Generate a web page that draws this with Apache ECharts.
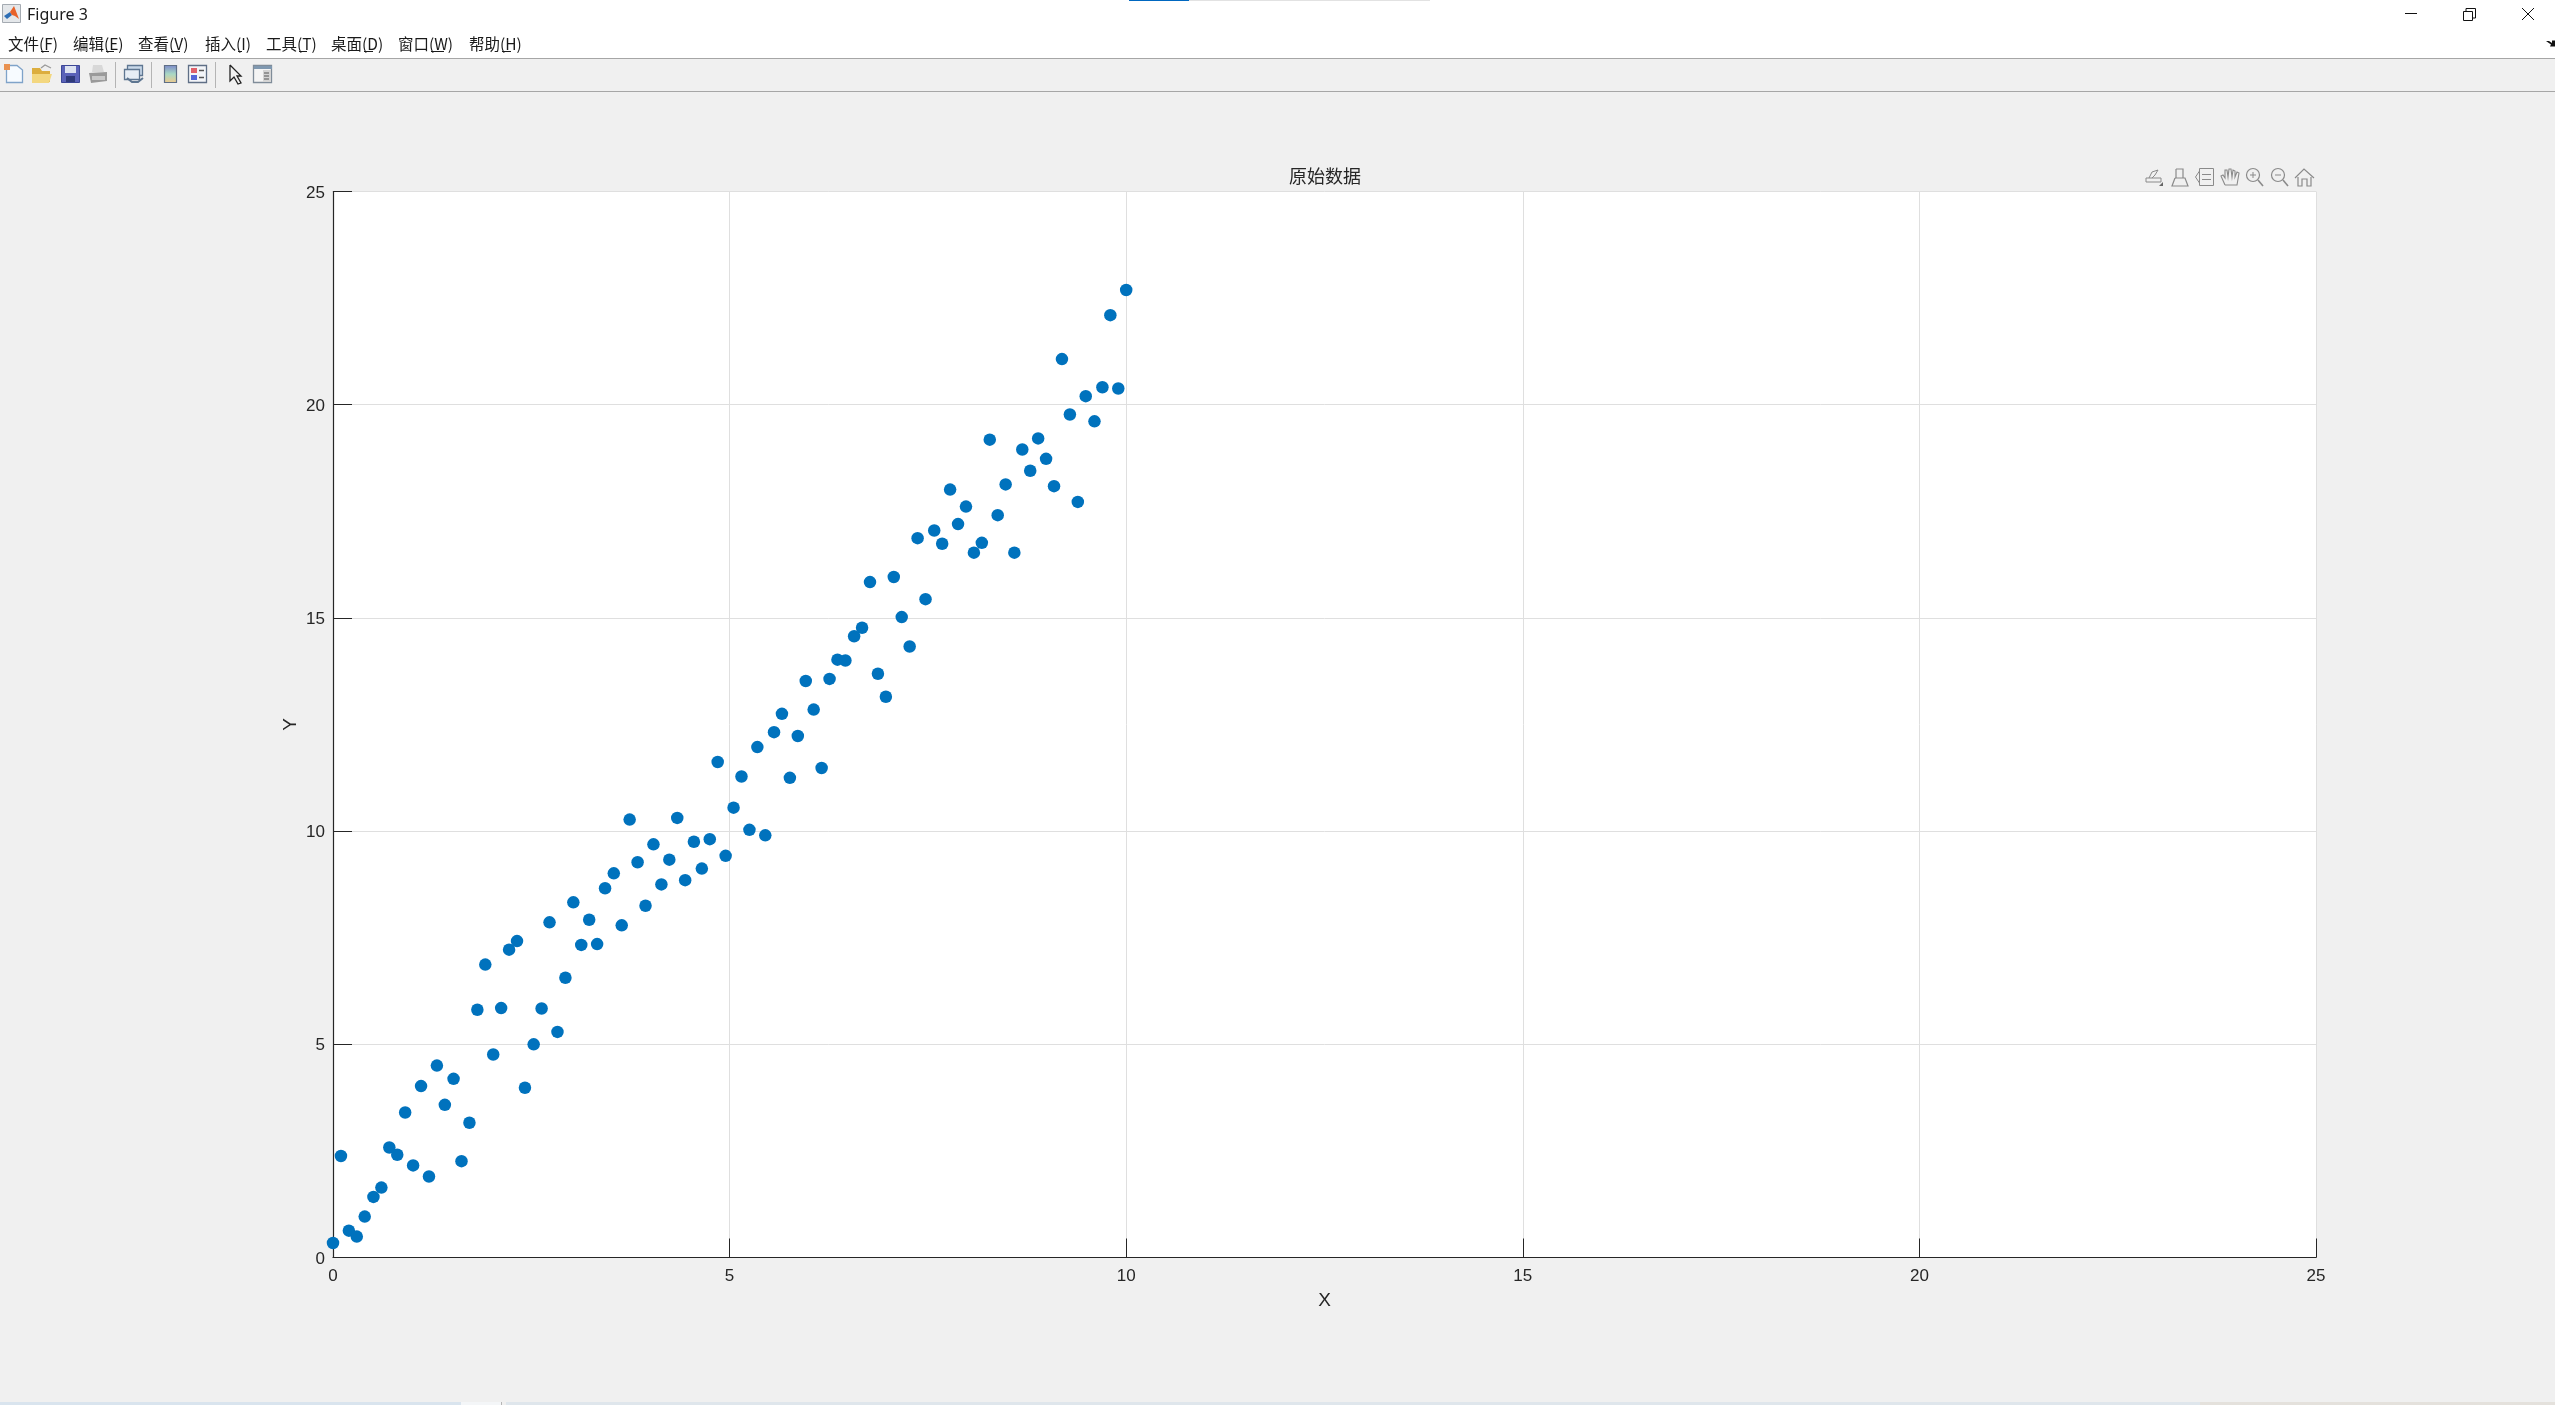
<!DOCTYPE html>
<html>
<head>
<meta charset="utf-8">
<title>Figure 3</title>
<style>html,body{margin:0;padding:0;background:#f0f0f0;overflow:hidden}#chart{width:2555px;height:1405px}</style>
<script src="https://cdn.jsdelivr.net/npm/echarts@6/dist/echarts.min.js"></script>
</head>
<body>
<div id="chart"></div>
<script>
const windowTitle = 'Figure 3';
const chartTitle = '原始数据';
const xName = 'X';
const yName = 'Y';
const menuLabels = ['文件(F)','编辑(E)','查看(V)','插入(I)','工具(T)','桌面(D)','窗口(W)','帮助(H)'];
const xValues = [0,0.10,0.20,0.30,0.40,0.51,0.61,0.71,0.81,0.91,1.01,1.11,1.21,1.31,1.41,1.52,1.62,1.72,1.82,1.92,
  2.02,2.12,2.22,2.32,2.42,2.53,2.63,2.73,2.83,2.93,3.03,3.13,3.23,3.33,3.43,3.54,3.64,3.74,3.84,3.94,
  4.04,4.14,4.24,4.34,4.44,4.55,4.65,4.75,4.85,4.95,5.05,5.15,5.25,5.35,5.45,5.56,5.66,5.76,5.86,5.96,
  6.06,6.16,6.26,6.36,6.46,6.57,6.67,6.77,6.87,6.97,7.07,7.17,7.27,7.37,7.47,7.58,7.68,7.78,7.88,7.98,
  8.08,8.18,8.28,8.38,8.48,8.59,8.69,8.79,8.89,8.99,9.09,9.19,9.29,9.39,9.49,9.60,9.70,9.80,9.90,10];
const yValues = [0.34,2.38,0.63,0.49,0.96,1.42,1.64,2.58,2.41,3.40,2.16,4.02,1.90,4.50,3.58,4.19,2.26,3.16,5.81,6.87,
  4.76,5.85,7.22,7.42,3.98,5.00,5.84,7.86,5.29,6.56,8.33,7.33,7.92,7.35,8.66,9.01,7.79,10.27,9.27,8.25,
  9.69,8.75,9.33,10.31,8.85,9.75,9.12,9.81,11.62,9.42,10.55,11.28,10.03,11.97,9.90,12.32,12.75,11.25,12.23,13.52,
  12.85,11.48,13.57,14.02,14.00,14.57,14.77,15.84,13.69,13.15,15.96,15.02,14.33,16.87,15.44,17.05,16.74,18.01,17.20,17.61,
  16.53,16.76,19.18,17.41,18.13,16.53,18.95,18.45,19.21,18.73,18.09,21.07,19.77,17.72,20.20,19.61,20.41,22.10,20.38,22.69];

const UI_FONT = '"Noto Sans CJK SC","Noto Sans",sans-serif';
const AXIS_FONT = '"Liberation Sans",Arial,sans-serif';
const INK = '#262626';
const ICON = '#8a8a8a';

const g = [];
let ox = 0, oy = 0;
const at = (x,y) => { ox = x; oy = y; };
const P = pts => pts.map(p=>[p[0]+ox,p[1]+oy]);
const rect = (x,y,w,h,fill) => g.push({type:'rect',shape:{x:x+ox,y:y+oy,width:w,height:h},style:{fill,stroke:null},silent:true});
const box = (x,y,w,h,fill,stroke,lw) => g.push({type:'rect',shape:{x:x+ox,y:y+oy,width:w,height:h},style:{fill:fill||'transparent',stroke,lineWidth:lw||1},silent:true});
const line = (x1,y1,x2,y2,stroke,lw) => g.push({type:'line',shape:{x1:x1+ox,y1:y1+oy,x2:x2+ox,y2:y2+oy},style:{stroke,lineWidth:lw||1},silent:true});
const poly = (pts,fill) => g.push({type:'polygon',shape:{points:P(pts)},style:{fill},silent:true});
const pline = (pts,stroke,lw) => g.push({type:'polyline',shape:{points:P(pts)},style:{stroke,fill:'transparent',lineWidth:lw||1.5},silent:true});
const circ = (cx,cy,r,stroke,lw) => g.push({type:'circle',shape:{cx:cx+ox,cy:cy+oy,r},style:{fill:'transparent',stroke,lineWidth:lw||1.5},silent:true});
const txt = (x,y,text,font,fill) => g.push({type:'text',x,y,style:{text,font,fill:fill||'#1a1a1a',textVerticalAlign:'middle',textBaseline:'middle'},silent:true});

// window title bar, menu bar, toolbar
rect(0,0,2555,58,'#ffffff');
rect(1129,0,60,1,'#0067c0');
rect(1189,0,241,1,'#e2e2e2');
rect(0,58,2555,1,'#a6a6a6');
rect(0,91,2555,1,'#a6a6a6');
txt(27,15,windowTitle,'16px "Noto Sans",sans-serif');

// MATLAB logo
at(2,4);
box(0.5,0.5,18,18,'#e4e7ea','#a5abb2',1);
poly([[2,12],[8,8],[10,11],[5,15]],'#2f6fb5');
poly([[8,8],[12,2],[17,15],[13,12],[10,11]],'#e8622a');
at(0,0);

// menu
const menuX = [8,73,138,205,266,331,398,469];
const mnemonicW = [8,8,9,4,8,9,13,9];
menuLabels.forEach((m,i)=>{
  txt(menuX[i],44,m,'15.5px '+UI_FONT);
  line(menuX[i]+33,51.5,menuX[i]+33+mnemonicW[i],51.5,'#1a1a1a',1);
});

// window controls
line(2405,13.5,2417,13.5,'#111',1);
box(2463.5,11.5,9,9,'#fff','#111',1);
pline([[2466,11],[2466,8.5],[2475.5,8.5],[2475.5,18],[2473,18]],'#111',1);
line(2522,8,2534,20,'#111',1);
line(2534,8,2522,20,'#111',1);
poly([[2546,41],[2549,41],[2552,43],[2552,40.5],[2555,40.5],[2555,46.5],[2550,46.5],[2551,44.5]],'#111');

// toolbar icons
// new
at(4,64);
poly([[2.5,1.5],[13,1.5],[18.5,6],[18.5,18.5],[2.5,18.5]],'#f7fbff');
pline([[2.5,1.5],[13,1.5],[18.5,6],[18.5,18.5],[2.5,18.5],[2.5,1.5]],'#7fa3c9',1.3);
poly([[0,0],[6,0],[6,6],[0,6]],'#e9914f');
// open
at(32,64);
poly([[0,4],[8,4],[10,7],[18,7],[18,18],[0,18]],'#dcae3f');
poly([[0,10],[20,10],[17,19],[0,19]],'#f3d77f');
pline([[9,4],[13,1],[19,4]],'#9a9a9a',1.3);
// save
at(61,64);
box(0.5,1.5,18,17,'#5a62b8','#3c4796',1);
rect(4,2,11,7,'#dde3f1');
rect(5,12,9,6,'#2f3a7a');
// print
at(89,64);
poly([[4,1],[13,1],[15,8],[3,8]],'#d8d8d8');
poly([[0,9],[18,8],[18,17],[2,19]],'#9a9a9a');
rect(3,12,13,4,'#c9c9c9');
at(0,0);
line(115.5,62,115.5,88,'#b4b4b4',1);
// link plots
at(124,64);
box(3.5,1.5,15,10,'#c8d8e9','#5e7691',1.3);
box(0.5,5.5,15,10,'#e7eef5','#5e7691',1.3);
pline([[3,14],[8,18],[14,18],[19,14]],'#5e7691',2);
at(0,0);
line(151.5,62,151.5,88,'#b4b4b4',1);
// colorbar
g.push({type:'rect',shape:{x:164.5,y:65.5,width:12,height:17},style:{stroke:'#5f6f86',lineWidth:1.2,fill:{type:'linear',x:0,y:0,x2:0,y2:1,colorStops:[{offset:0,color:'#7b86c9'},{offset:0.5,color:'#a8d8c5'},{offset:1,color:'#f0c98c'}]}},silent:true});
// legend
at(188,64);
box(0.5,1.5,18,17,'#f3f5f8','#5f6f86',1.3);
rect(3,4,6,5,'#e0606a');
rect(3,11,6,5,'#5566d8');
line(11,6.5,16,6.5,'#555',1.5);
line(11,13.5,16,13.5,'#555',1.5);
at(0,0);
line(215.5,62,215.5,88,'#b4b4b4',1);
// cursor
at(230,64);
poly([[0,1],[11,12],[7,12],[11,19],[8,20],[4,13],[0,17]],'#f2f2f2');
pline([[0,1],[11,12],[7,12],[11,19],[8,20],[4,13],[0,17],[0,1]],'#222',1.3);
// panel
at(253,64);
box(0.5,1.5,18,17,'#f4f4f4','#7f8c99',1.3);
rect(1,2,18,3,'#7f98b0');
rect(10,6,8,12,'#d4d4d4');
line(11,9,16,9,'#555',1);line(11,12,16,12,'#555',1);line(11,15,16,15,'#555',1);
at(0,0);

// axes toolbar icons
at(0,-1);
pline([[2146,179],[2161,179],[2161,183],[2146,183],[2146,179]],ICON,1);
pline([[2149,179],[2152,173],[2158,171],[2155,176],[2152,179]],ICON,1);
poly([[2159,187],[2163,187],[2163,183]],'#666');
pline([[2176,170],[2183,170],[2183,179]],ICON,1.2);
pline([[2176,170],[2176,179]],ICON,1.2);
pline([[2175,179],[2185,179],[2188,187],[2172,187],[2175,179]],ICON,1.2);
box(2199.5,169.5,14,17,'transparent',ICON,1);
line(2195.5,178,2199.5,172,ICON,1);line(2195.5,178,2199.5,184,ICON,1);
line(2202,175.5,2211,175.5,ICON,1);line(2202,180.5,2211,180.5,ICON,1);
pline([[2225,186],[2221,177],[2223,176],[2225,179],[2225,171],[2227,171],[2228,178],[2229,170],[2231,170],[2232,178],[2233,171],[2235,172],[2235,178],[2237,173],[2239,174],[2237,186],[2225,186]],ICON,1.1);
circ(2253,176,6.5,ICON,1.2);line(2258,181,2263,187,ICON,1.6);line(2250,176,2256,176,ICON,1);line(2253,173,2253,179,ICON,1);
circ(2278,176,6.5,ICON,1.2);line(2283,181,2288,187,ICON,1.6);line(2275,176,2281,176,ICON,1);
pline([[2295,179],[2304,170],[2314,179]],ICON,1.2);
pline([[2298,178],[2298,187],[2302,187],[2302,180],[2307,180],[2307,187],[2311,187],[2311,178]],ICON,1.2);
at(0,0);

// bottom strip
rect(0,1402,461,3,'#d9e4ee');
rect(461,1402,40,3,'#f4f6f8');
rect(501,1402,1,3,'#b5b5b5');
rect(506,1402,1694,3,'#dfe6ec');
rect(2200,1402,355,3,'#e4e1dc');

const option = {
  animation: false,
  backgroundColor: '#f0f0f0',
  title: {
    text: chartTitle, left: 1320, top: 161, textAlign: 'center',
    textStyle: {fontFamily: UI_FONT, fontSize: 18, fontWeight: 'normal', color: INK, lineHeight: 20}
  },
  grid: {left: 333, top: 191.5, width: 1983, height: 1066, show: true, backgroundColor: '#ffffff', borderWidth: 0, containLabel: false},
  xAxis: {
    type: 'value', min: 0, max: 25, interval: 5,
    name: xName, nameLocation: 'middle', nameGap: 34, nameMoveOverlap: false,
    nameTextStyle: {fontFamily: AXIS_FONT, fontSize: 19, color: INK},
    axisLine: {show: true, onZero: false, lineStyle: {color: INK, width: 1.2}},
    axisTick: {show: true, inside: true, length: 19, lineStyle: {color: INK, width: 1}},
    axisLabel: {fontFamily: AXIS_FONT, fontSize: 17, color: INK, margin: 10},
    splitLine: {show: true, lineStyle: {color: '#dfdfdf', width: 1}}
  },
  yAxis: {
    type: 'value', min: 0, max: 25, interval: 5,
    name: yName, nameLocation: 'middle', nameGap: 33, nameRotate: 90, nameMoveOverlap: false,
    nameTextStyle: {fontFamily: AXIS_FONT, fontSize: 19, color: INK},
    axisLine: {show: true, onZero: false, lineStyle: {color: INK, width: 1.2}},
    axisTick: {show: true, inside: true, length: 19, lineStyle: {color: INK, width: 1}},
    axisLabel: {
      margin: 8, formatter: '{a|{value}}',
      rich: {a: {fontFamily: AXIS_FONT, fontSize: 17, color: INK, padding: [3,0,0,0]}}
    },
    splitLine: {show: true, lineStyle: {color: '#dfdfdf', width: 1}}
  },
  series: [{
    type: 'scatter',
    data: xValues.map((x,i)=>[x,yValues[i]]),
    symbol: 'circle', symbolSize: 12.5, clip: false,
    itemStyle: {color: '#0072bd', opacity: 1},
    emphasis: {disabled: true}
  }],
  graphic: {elements: g}
};
echarts.init(document.getElementById('chart'), null, {renderer:'canvas'}).setOption(option);
</script>
</body>
</html>
